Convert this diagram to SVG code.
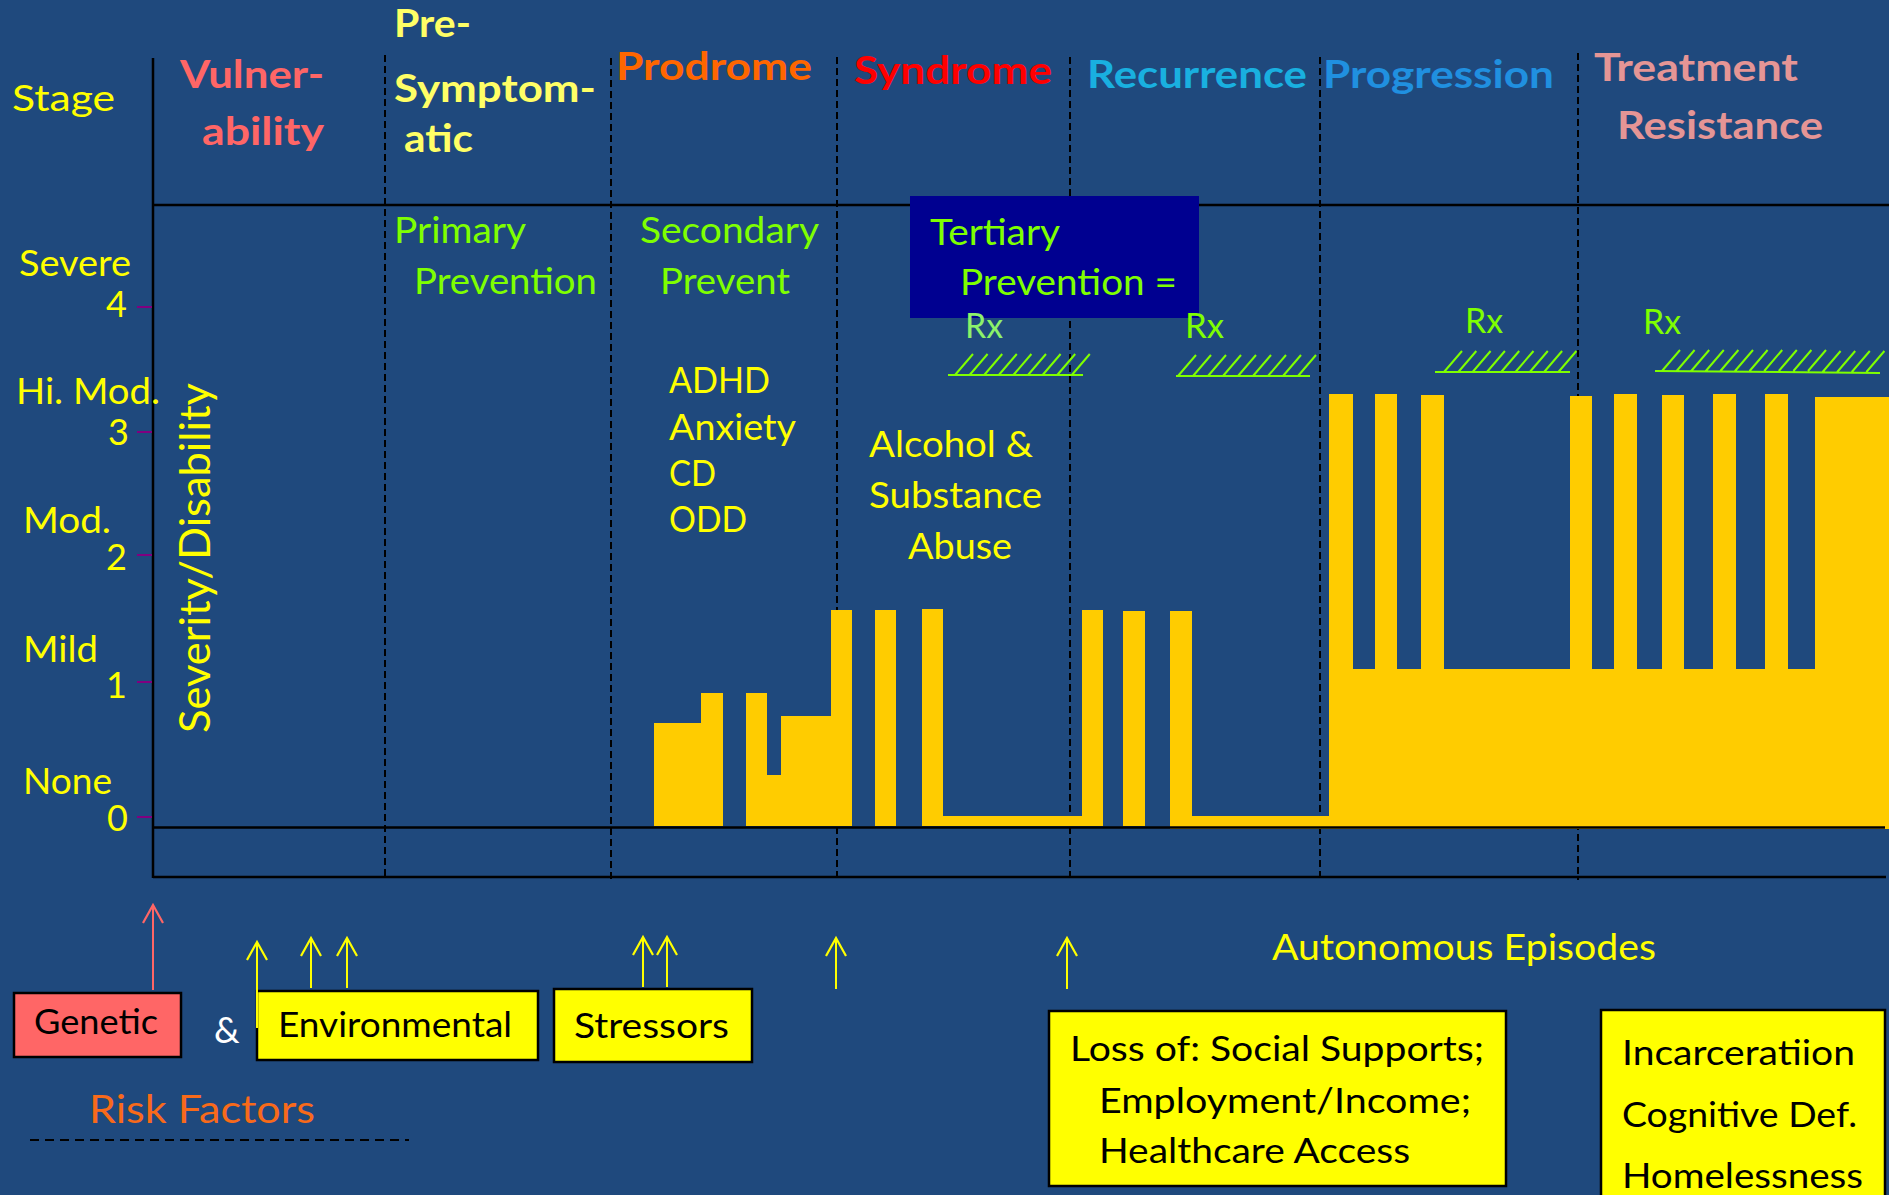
<svg xmlns="http://www.w3.org/2000/svg" width="1889" height="1195" viewBox="0 0 1889 1195">
<defs>
<style>
text{font-family:Lato,"Liberation Sans",sans-serif}
.hd{font-weight:bold;font-size:39px}
.lb{font-size:36px;fill:#FFFF00}
.gr{font-size:36px;fill:#7FFF00}
.rx{font-size:34px;fill:#7FFF00}
.bx{font-size:35px;fill:#000000}
.dash{stroke:#000;stroke-width:2;stroke-dasharray:7 4;fill:none}
.ax{stroke:#000;stroke-width:2.5;fill:none}
.tick{stroke:#800080;stroke-width:2}
.bar{fill:#FFCC00}
.hatch{stroke:#7FFF00;stroke-width:2;fill:none}
.ay{stroke:#FFFF00;stroke-width:2;fill:none}
.ar{stroke:#FF6666;stroke-width:2;fill:none}
.box{stroke:#000;stroke-width:2.5}
</style>
<marker id="arrY" markerUnits="userSpaceOnUse" viewBox="0 0 22 24" markerWidth="22" markerHeight="24" refX="19" refY="12" orient="auto">
<path d="M1,2 L19,12 L1,22" fill="none" stroke="#FFFF00" stroke-width="2.2"/>
</marker>
<marker id="arrR" markerUnits="userSpaceOnUse" viewBox="0 0 22 24" markerWidth="22" markerHeight="24" refX="19" refY="12" orient="auto">
<path d="M1,2 L19,12 L1,22" fill="none" stroke="#FF6666" stroke-width="2.2"/>
</marker>
</defs>

<rect x="0" y="0" width="1889" height="1195" fill="#1F497D"/>

<g id="chart">
<path class="dash" d="M385,55 V880 M611,58 V880 M837,57 V880 M1070,57 V880 M1320,57 V880 M1578,53 V880"/>
<path class="ax" d="M153,58 V878 M153,205 H1889 M153,877 H1886"/>
<path class="tick" d="M137,307 H152 M137,432 H152 M137,555 H152 M137,682 H152 M137,817 H152"/>
<g id="severity-bars">
<path class="bar" d="M654,826 V723 H701 V693 H723 V826 Z"/>
<path class="bar" d="M746,826 V693 H767 V775 H781 V716 H831 V610 H852 V826 Z"/>
<rect class="bar" x="875" y="610" width="21" height="216"/>
<path class="bar" d="M922,826 V609 H943 V816 H1082 V610 H1103 V826 Z"/>
<rect class="bar" x="1123" y="611" width="22" height="215"/>
<path class="bar" d="M1170,826 V611 H1192 V816 H1329 V394 H1353 V669 H1375 V394 H1397 V669 H1421 V395 H1444 V669 H1570 V396 H1592 V669 H1614 V394 H1637 V669 H1662 V395 H1684 V669 H1713 V394 H1736 V669 H1765 V394 H1788 V669 H1815 V397 H1889 V829 H1170 Z"/>
</g>
<path class="ax" d="M153,827.5 H1885"/>
</g>

<g id="tertiary-box">
<rect x="910" y="196" width="289" height="122" fill="#000090"/>
</g>

<g id="hatches">
<path class="hatch" d="M948,375 H1083 M955,375 l18,-21 M969.6,375 l18,-21 M984.2,375 l18,-21 M998.8,375 l18,-21 M1013.4,375 l18,-21 M1028,375 l18,-21 M1042.6,375 l18,-21 M1057.2,375 l18,-21 M1071.8,375 l18,-21"/>
<path class="hatch" d="M1176,376 H1310 M1178,376 l18,-21 M1193,376 l18,-21 M1208,376 l18,-21 M1223,376 l18,-21 M1238,376 l18,-21 M1253,376 l18,-21 M1268,376 l18,-21 M1283,376 l18,-21 M1298,376 l18,-21"/>
<path class="hatch" d="M1435,372 H1570 M1444,372 l18,-21 M1458.3,372 l18,-21 M1472.6,372 l18,-21 M1486.9,372 l18,-21 M1501.2,372 l18,-21 M1515.5,372 l18,-21 M1529.8,372 l18,-21 M1544.1,372 l18,-21 M1558.4,372 l18,-21"/>
<path class="hatch" d="M1655,371 L1880,373 M1662,371 l18,-21 M1676.6,371 l18,-21 M1691.2,371 l18,-21 M1705.8,371 l18,-21 M1720.4,371 l18,-21 M1735,371 l18,-21 M1749.6,371 l18,-21 M1764.2,371 l18,-21 M1778.8,371 l18,-21 M1793.4,371 l18,-21 M1808,371 l18,-21 M1822.6,372 l18,-21 M1837.2,372 l18,-21 M1851.8,372 l18,-21 M1866.4,372 l18,-21"/>
</g>

<g id="stage-label"><text x="12" y="111" font-size="37" fill="#FFFF00" textLength="103" lengthAdjust="spacingAndGlyphs">Stage</text></g>
<g id="stage-vulnerability">
<text class="hd" x="180" y="88" fill="#FF6666" textLength="144" lengthAdjust="spacingAndGlyphs">Vulner-</text>
<text class="hd" x="202" y="145" fill="#FF6666" textLength="122" lengthAdjust="spacingAndGlyphs">ability</text>
</g>
<g id="stage-presymptomatic">
<text class="hd" x="394" y="37" fill="#FFFF66" textLength="77" lengthAdjust="spacingAndGlyphs">Pre-</text>
<text class="hd" x="394" y="102" fill="#FFFF66" textLength="202" lengthAdjust="spacingAndGlyphs">Symptom-</text>
<text class="hd" x="404" y="152" fill="#FFFF66" textLength="69" lengthAdjust="spacingAndGlyphs">atic</text>
</g>
<g id="stage-prodrome"><text class="hd" x="616" y="80" fill="#FF6600" textLength="196" lengthAdjust="spacingAndGlyphs">Prodrome</text></g>
<g id="stage-syndrome"><text class="hd" x="854" y="84" fill="#FF0000" textLength="198" lengthAdjust="spacingAndGlyphs">Syndrome</text></g>
<g id="stage-recurrence"><text class="hd" x="1087" y="88" fill="#19B0E0" textLength="220" lengthAdjust="spacingAndGlyphs">Recurrence</text></g>
<g id="stage-progression"><text class="hd" x="1323" y="88" fill="#2090E0" textLength="231" lengthAdjust="spacingAndGlyphs">Progression</text></g>
<g id="stage-treatment-resistance">
<text class="hd" x="1594" y="81" fill="#E59595" textLength="204" lengthAdjust="spacingAndGlyphs">Treatment</text>
<text class="hd" x="1617" y="139" fill="#E59595" textLength="206" lengthAdjust="spacingAndGlyphs">Resistance</text>
</g>

<g id="severity-labels">
<text class="lb" x="19" y="276" textLength="112" lengthAdjust="spacingAndGlyphs">Severe</text>
<text class="lb" x="127" y="317" text-anchor="end">4</text>
<text class="lb" x="16" y="404" textLength="144" lengthAdjust="spacingAndGlyphs">Hi. Mod.</text>
<text class="lb" x="129" y="445" text-anchor="end">3</text>
<text class="lb" x="23" y="533" textLength="88" lengthAdjust="spacingAndGlyphs">Mod.</text>
<text class="lb" x="127" y="570" text-anchor="end">2</text>
<text class="lb" x="23" y="662" textLength="75" lengthAdjust="spacingAndGlyphs">Mild</text>
<text class="lb" x="127" y="698" text-anchor="end">1</text>
<text class="lb" x="23" y="794" textLength="89" lengthAdjust="spacingAndGlyphs">None</text>
<text class="lb" x="128" y="831" text-anchor="end">0</text>
</g>
<g id="axis-title"><text font-size="42" fill="#FFFF00" transform="translate(210,733) rotate(-90)" textLength="350" lengthAdjust="spacingAndGlyphs">Severity/Disability</text></g>

<g id="primary-prevention">
<text class="gr" x="394" y="243" textLength="132" lengthAdjust="spacingAndGlyphs">Primary</text>
<text class="gr" x="414" y="294" textLength="183" lengthAdjust="spacingAndGlyphs">Prevention</text>
</g>
<g id="secondary-prevention">
<text class="gr" x="640" y="243" textLength="179" lengthAdjust="spacingAndGlyphs">Secondary</text>
<text class="gr" x="660" y="294" textLength="130" lengthAdjust="spacingAndGlyphs">Prevent</text>
</g>
<g id="tertiary-prevention">
<text class="gr" x="930" y="245" textLength="130" lengthAdjust="spacingAndGlyphs">Tertiary</text>
<text class="gr" x="960" y="295" textLength="217" lengthAdjust="spacingAndGlyphs">Prevention =</text>
</g>
<g id="rx-labels">
<text class="rx" x="965" y="338" style="fill:#8CF26A" textLength="38" lengthAdjust="spacingAndGlyphs">Rx</text>
<text class="rx" x="1185" y="338" textLength="39" lengthAdjust="spacingAndGlyphs">Rx</text>
<text class="rx" x="1465" y="333" textLength="38" lengthAdjust="spacingAndGlyphs">Rx</text>
<text class="rx" x="1643" y="334" textLength="38" lengthAdjust="spacingAndGlyphs">Rx</text>
</g>

<g id="prodrome-disorders">
<text class="lb" x="669" y="393" textLength="101" lengthAdjust="spacingAndGlyphs">ADHD</text>
<text class="lb" x="669" y="440" textLength="127" lengthAdjust="spacingAndGlyphs">Anxiety</text>
<text class="lb" x="669" y="486" textLength="47" lengthAdjust="spacingAndGlyphs">CD</text>
<text class="lb" x="669" y="532" textLength="78" lengthAdjust="spacingAndGlyphs">ODD</text>
</g>
<g id="syndrome-disorders">
<text class="lb" x="869" y="457" textLength="164" lengthAdjust="spacingAndGlyphs">Alcohol &amp;</text>
<text class="lb" x="869" y="508" textLength="173" lengthAdjust="spacingAndGlyphs">Substance</text>
<text class="lb" x="908" y="559" textLength="104" lengthAdjust="spacingAndGlyphs">Abuse</text>
</g>

<g id="genetic">
<rect class="box" x="14" y="993" width="167" height="64" fill="#FF6666"/>
<text class="bx" x="34" y="1034" textLength="124" lengthAdjust="spacingAndGlyphs">Genetic</text>
</g>
<g id="ampersand"><text x="214" y="1043" font-size="36" fill="#FFFFFF">&amp;</text></g>
<g id="environmental">
<rect class="box" x="257" y="991" width="281" height="69" fill="#FFFF00"/>
<text class="bx" x="278" y="1037" textLength="234" lengthAdjust="spacingAndGlyphs">Environmental</text>
</g>
<g id="stressors">
<rect class="box" x="554" y="989" width="198" height="73" fill="#FFFF00"/>
<text class="bx" x="574" y="1038" textLength="155" lengthAdjust="spacingAndGlyphs">Stressors</text>
</g>
<g id="risk-factors">
<text x="89" y="1123" font-size="39" fill="#F86A1A" textLength="226" lengthAdjust="spacingAndGlyphs">Risk Factors</text>
<path d="M30,1140 H409" stroke="#000" stroke-width="2" stroke-dasharray="9 6"/>
</g>
<g id="autonomous-episodes"><text x="1272" y="960" font-size="37" fill="#FFFF00" textLength="384" lengthAdjust="spacingAndGlyphs">Autonomous Episodes</text></g>
<g id="losses">
<rect class="box" x="1049" y="1011" width="457" height="175" fill="#FFFF00"/>
<text class="bx" x="1070" y="1061" textLength="414" lengthAdjust="spacingAndGlyphs">Loss of: Social Supports;</text>
<text class="bx" x="1099" y="1113" textLength="372" lengthAdjust="spacingAndGlyphs">Employment/Income;</text>
<text class="bx" x="1099" y="1163" textLength="311" lengthAdjust="spacingAndGlyphs">Healthcare Access</text>
</g>
<g id="consequences">
<rect class="box" x="1601" y="1010" width="284" height="200" fill="#FFFF00"/>
<text class="bx" x="1622" y="1065" textLength="233" lengthAdjust="spacingAndGlyphs">Incarceratiion</text>
<text class="bx" x="1622" y="1127" textLength="235" lengthAdjust="spacingAndGlyphs">Cognitive Def.</text>
<text class="bx" x="1622" y="1188" textLength="241" lengthAdjust="spacingAndGlyphs">Homelessness</text>
</g>

<g id="connectors">
<path class="ar" d="M153,990 V905" marker-end="url(#arrR)"/>
<path class="ay" d="M257,1028 V942" marker-end="url(#arrY)"/>
<path class="ay" d="M311,988 V938" marker-end="url(#arrY)"/>
<path class="ay" d="M347,988 V938" marker-end="url(#arrY)"/>
<path class="ay" d="M643,987 V937" marker-end="url(#arrY)"/>
<path class="ay" d="M667,987 V937" marker-end="url(#arrY)"/>
<path class="ay" d="M836,989 V938" marker-end="url(#arrY)"/>
<path class="ay" d="M1067,989 V938" marker-end="url(#arrY)"/>
</g>
</svg>
